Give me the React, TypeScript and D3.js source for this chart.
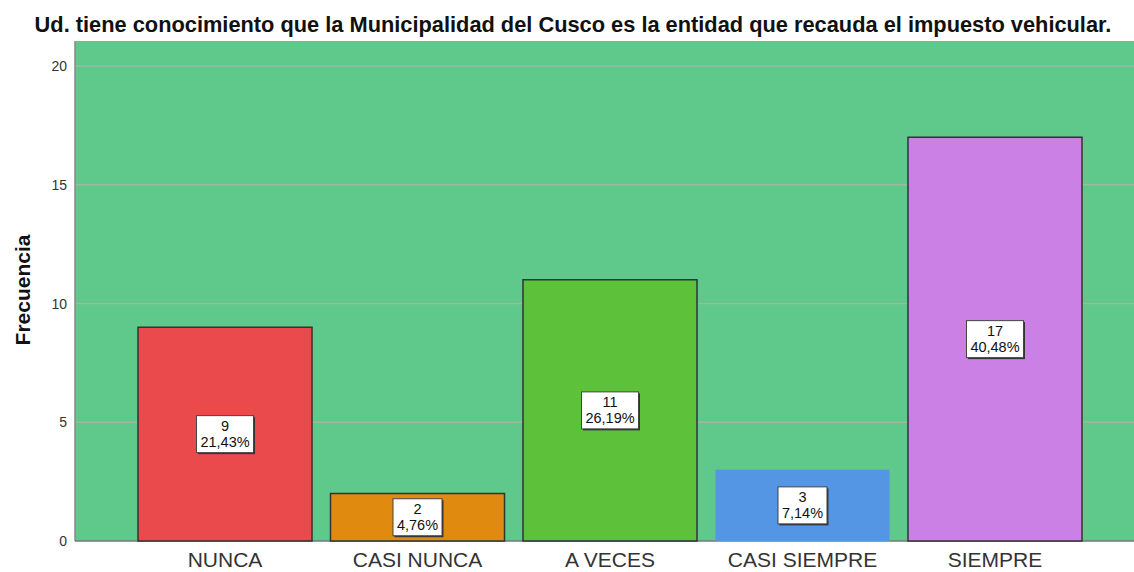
import React from "react";
import * as d3 from "d3";

const categories = ["NUNCA", "CASI NUNCA", "A VECES", "CASI SIEMPRE", "SIEMPRE"];
const counts = [9, 2, 11, 3, 17];
const percents = ["21,43%", "4,76%", "26,19%", "7,14%", "40,48%"];
const colors = ["#ea4a4c", "#e08a10", "#5dc23a", "#5596e4", "#ca80e4"];
const strokes = ["#333", "#333", "#333", "none", "#333"];
const yTicks = [0, 5, 10, 15, 20];
const title = "Ud. tiene conocimiento que la Municipalidad del Cusco es la entidad que recauda el impuesto vehicular.";

export default function App() {
  const W = 1134, H = 572;
  const left = 75, right = 1134, top = 41, bottom = 541;
  const y = d3.scaleLinear().domain([0, 20]).range([bottom, 66]);
  const x = d3.scaleBand().domain(categories).range([138, 1082]).paddingInner(0.096).paddingOuter(0);
  const font = "Liberation Sans, Arial, sans-serif";
  return (
    <svg width={W} height={H} style={{ position: "absolute", left: 0, top: 0 }} fontFamily={font}>
      <rect x={0} y={0} width={W} height={H} fill="#fff" />
      <text x={573} y={32} textAnchor="middle" fontSize={21.8} fontWeight="bold" fill="#111">{title}</text>
      <rect x={left} y={top} width={right - left} height={bottom - top} fill="#5ec98b" />
      {yTicks.map(t => (
        <g key={t}>
          {t > 0 && <line x1={left} x2={right} y1={y(t)} y2={y(t)} stroke="#9fb8a4" strokeWidth={1.5} />}
          <text x={67} y={y(t) + 5} textAnchor="end" fontSize={14} fill="#333">{t}</text>
        </g>
      ))}
      <line x1={left} x2={left} y1={top} y2={bottom} stroke="#888" strokeWidth={1.5} />
      <line x1={left} x2={right} y1={bottom} y2={bottom} stroke="#777" strokeWidth={1.5} />
      <text transform={`translate(30,290) rotate(-90)`} textAnchor="middle" fontSize={21} fontWeight="bold" fill="#111">Frecuencia</text>
      {categories.map((c, i) => {
        const bx = x(c)!;
        const bw = x.bandwidth();
        const by = y(counts[i]);
        const cx = bx + bw / 2;
        const cy = y(counts[i] / 2);
        const bwBox = percents[i].length > 5 ? 57 : 49;
        return (
          <g key={c}>
            <rect x={bx} y={by} width={bw} height={bottom - by} fill={colors[i]} stroke={strokes[i]} strokeWidth={1.5} />
            <rect x={cx - bwBox / 2 + 1.5} y={cy - 18.5 + 1.5} width={bwBox} height={37} fill="#333" />
            <rect x={cx - bwBox / 2} y={cy - 18.5} width={bwBox} height={37} fill="#fff" stroke="#444" strokeWidth={1} />
            <text x={cx} y={cy - 3} textAnchor="middle" fontSize={14.5} fill="#111">{counts[i]}</text>
            <text x={cx} y={cy + 12.5} textAnchor="middle" fontSize={14.5} fill="#111">{percents[i]}</text>
            <text x={cx} y={567} textAnchor="middle" fontSize={21} fill="#333">{c}</text>
          </g>
        );
      })}
    </svg>
  );
}
